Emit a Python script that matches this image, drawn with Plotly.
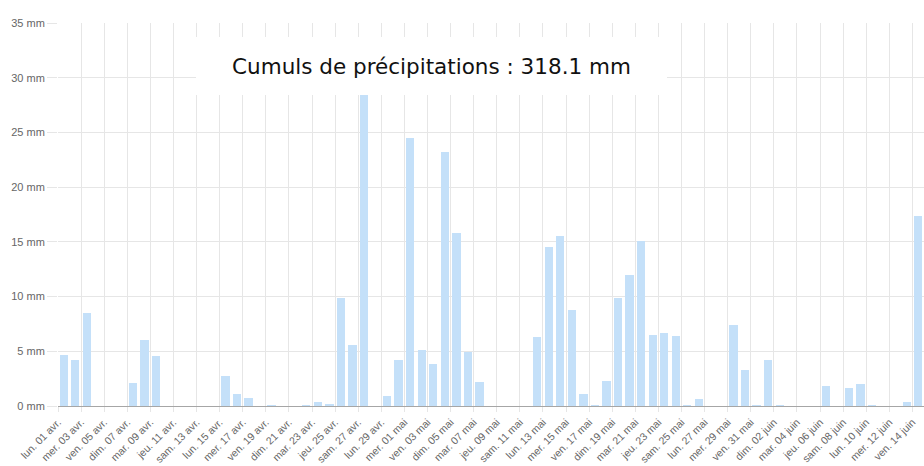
import datetime as dt
import plotly.graph_objects as go

# ---- data ----
start_day = "2024-04-01"
precip_mm = [
    # avril 01..30
    4.7, 4.2, 8.5, 0, 0, 0, 2.1, 6.0, 4.6, 0,
    0, 0, 0, 0, 2.7, 1.1, 0.7, 0, 0.1, 0,
    0, 0.1, 0.4, 0.2, 9.9, 5.6, 31.0, 0, 0.9, 4.2,
    # mai 01..31
    24.5, 5.1, 3.8, 23.2, 15.8, 4.9, 2.2, 0, 0, 0,
    0, 6.3, 14.5, 15.5, 8.8, 1.1, 0.1, 2.3, 9.9, 12.0,
    15.1, 6.5, 6.7, 6.4, 0.1, 0.6, 0, 0, 7.4, 3.3,
    0.1,
    # juin 01..14
    4.2, 0.1, 0, 0, 0, 1.8, 0, 1.6, 2.0, 0.1,
    0, 0, 0.4, 17.4,
]
tick_labels = [
    "lun. 01 avr.", "mer. 03 avr.", "ven. 05 avr.", "dim. 07 avr.", "mar. 09 avr.",
    "jeu. 11 avr.", "sam. 13 avr.", "lun. 15 avr.", "mer. 17 avr.", "ven. 19 avr.",
    "dim. 21 avr.", "mar. 23 avr.", "jeu. 25 avr.", "sam. 27 avr.", "lun. 29 avr.",
    "mer. 01 mai", "ven. 03 mai", "dim. 05 mai", "mar. 07 mai", "jeu. 09 mai",
    "sam. 11 mai", "lun. 13 mai", "mer. 15 mai", "ven. 17 mai", "dim. 19 mai",
    "mar. 21 mai", "jeu. 23 mai", "sam. 25 mai", "lun. 27 mai", "mer. 29 mai",
    "ven. 31 mai", "dim. 02 juin", "mar. 04 juin", "jeu. 06 juin", "sam. 08 juin",
    "lun. 10 juin", "mer. 12 juin", "ven. 14 juin",
]
y_ticks = [0, 5, 10, 15, 20, 25, 30, 35]
y_tick_labels = ["0 mm", "5 mm", "10 mm", "15 mm", "20 mm", "25 mm", "30 mm", "35 mm"]
title_text = "Cumuls de précipitations : 318.1 mm"

# ---- build ----
d0 = dt.datetime.fromisoformat(start_day)
bar_x = [d0 + dt.timedelta(days=i, hours=12) for i in range(len(precip_mm))]
tick_x = [d0 + dt.timedelta(days=2 * i) for i in range(len(tick_labels))]
x_end = d0 + dt.timedelta(days=len(precip_mm))

fig = go.Figure(
    go.Bar(
        x=bar_x,
        y=precip_mm,
        width=0.72 * 86400000,
        marker=dict(color="#c4e0f9", line=dict(width=0)),
        hoverinfo="skip",
    )
)

fig.update_layout(
    width=924,
    height=466,
    margin=dict(l=58, r=0, t=23, b=60, autoexpand=False),
    paper_bgcolor="white",
    plot_bgcolor="white",
    showlegend=False,
    font=dict(family="Liberation Sans, Arial, sans-serif", color="#666666"),
    bargap=0,
)

fig.update_xaxes(
    type="date",
    range=[d0, x_end],
    tickmode="array",
    tickvals=tick_x,
    ticktext=tick_labels,
    tickangle=-45,
    tickfont=dict(size=10.5, color="#666666"),
    showgrid=True,
    gridcolor="#e6e6e6",
    gridwidth=1,
    ticks="outside",
    ticklen=5,
    tickcolor="#e6e6e6",
    showline=True,
    linecolor="#a6a6a6",
    linewidth=1,
    zeroline=False,
    automargin=False,
)

fig.update_yaxes(
    range=[0, 35],
    tickmode="array",
    tickvals=y_ticks,
    ticktext=y_tick_labels,
    tickfont=dict(size=11, color="#666666"),
    showgrid=True,
    gridcolor="#e6e6e6",
    gridwidth=1,
    ticks="outside",
    ticklen=10,
    tickcolor="#e6e6e6",
    zeroline=False,
    showline=False,
    automargin=False,
)

fig.add_annotation(
    xref="paper",
    yref="paper",
    x=(431.2 - 58) / 866,
    y=(406 - 65.9) / 383,
    xanchor="center",
    yanchor="middle",
    text=title_text,
    showarrow=False,
    font=dict(family="DejaVu Sans, Verdana, sans-serif", size=21.5, color="#111111"),
    bgcolor="white",
    width=471,
    height=58,
    borderpad=0,
    borderwidth=0,
    align="center",
    valign="middle",
)

fig.write_html(
    "out.html",
    config={"displayModeBar": False, "staticPlot": True},
    post_script="document.body.style.margin='0px';document.body.style.overflow='hidden';",
)
